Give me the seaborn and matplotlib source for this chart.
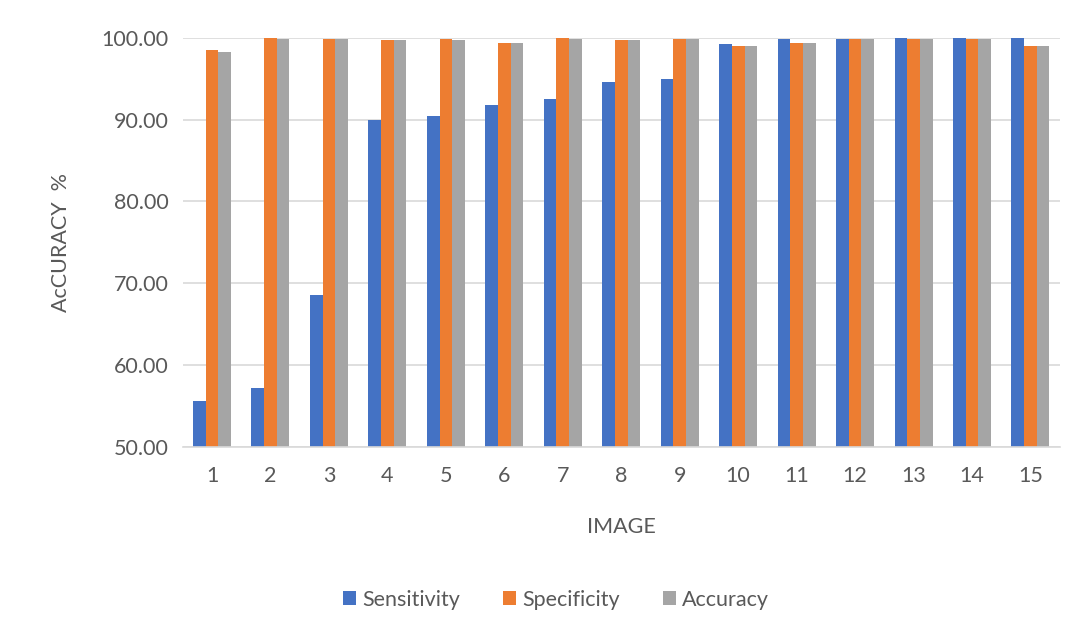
import pandas as pd
import matplotlib.pyplot as plt
import seaborn as sns

# values
images = [str(i) for i in range(1, 16)]
sensitivity = [55.6, 57.2, 68.6, 89.9, 90.4, 91.8, 92.5, 94.6, 95.0, 99.2, 99.9, 99.9, 100.0, 100.0, 100.0]
specificity = [98.5, 100.0, 99.9, 99.7, 99.9, 99.4, 100.0, 99.7, 99.9, 99.0, 99.4, 99.9, 99.9, 99.9, 99.0]
accuracy = [98.25, 99.9, 99.9, 99.7, 99.7, 99.4, 99.9, 99.7, 99.9, 99.0, 99.4, 99.9, 99.9, 99.9, 99.0]

df = pd.DataFrame({
    'IMAGE': images * 3,
    'value': sensitivity + specificity + accuracy,
    'metric': ['Sensitivity'] * 15 + ['Specificity'] * 15 + ['Accuracy'] * 15,
})

sns.set_style('white')
plt.rcParams['font.family'] = ['Lato', 'DejaVu Sans']
txt = '#595959'
fs = 15.5

fig = plt.figure(figsize=(10.88, 6.42), dpi=100)
ax = fig.add_axes([0.168, 0.304, 0.806, 0.637])

sns.barplot(data=df, x='IMAGE', y='value', hue='metric', ax=ax,
            palette=['#4472C4', '#ED7D31', '#A5A5A5'], width=0.65,
            saturation=1, linewidth=0, legend=True)

ax.set_ylim(50, 100)
ax.set_yticks(range(50, 101, 10))
ax.set_yticklabels([f'{v:.2f}' for v in range(50, 101, 10)])
ax.yaxis.grid(True, color='#D9D9D9', linewidth=1.2)
ax.set_axisbelow(True)
for s in ['top', 'right', 'left']:
    ax.spines[s].set_visible(False)
ax.spines['bottom'].set_color('#D9D9D9')
ax.spines['bottom'].set_linewidth(1.2)
ax.tick_params(axis='both', length=0, labelsize=fs, colors=txt, pad=10)
ax.tick_params(axis='x', pad=14)
ax.set_xlabel('IMAGE', fontsize=fs, color=txt, labelpad=22)
ax.set_ylabel('AcCURACY  %', fontsize=fs, color=txt, labelpad=22)

handles, labels = ax.get_legend_handles_labels()
ax.get_legend().remove()
fig.legend(handles, labels, loc='center', bbox_to_anchor=(0.511, 0.066), ncol=3,
           frameon=False, fontsize=fs, labelcolor=txt, handlelength=0.6,
           handleheight=0.6, handletextpad=0.3, columnspacing=2.0)

fig.savefig('out.png', dpi=100)
